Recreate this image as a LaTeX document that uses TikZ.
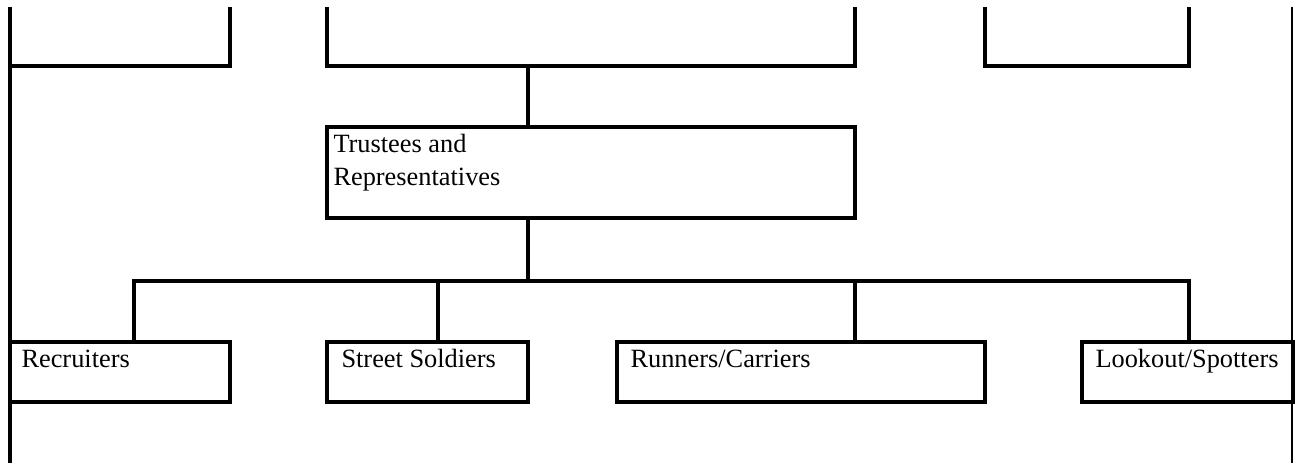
\documentclass[tikz,border=0pt]{standalone}
\usepackage{fontspec}
\setmainfont{Liberation Serif}
\usepackage{tikz}
\usetikzlibrary{fit}

\begin{document}
\begin{tikzpicture}[x=0.02cm, y=-0.02cm,
    box/.style={draw, line width=2.1pt, inner sep=0pt},
    conn/.style={line width=2.1pt},
    lbl/.style={inner sep=0pt, anchor=base west, align=left,
      font=\fontsize{15}{18.7}\selectfont}]
  \useasboundingbox (0,0) rectangle (1295,463);
  \clip (0,7) rectangle (1295,463);
  \node[box, fit={(10,-40) (230,66)}] (top1) {};
  \node[box, fit={(327,-40) (855,66)}] (top2) {};
  \node[box, fit={(985,-40) (1189,66)}] (top3) {};
  \node[box, fit={(327,127) (855,218)}] (trust) {};
  \node[box, fit={(10,342) (230,402)}] (rec) {};
  \node[box, fit={(327,342) (528,402)}] (sol) {};
  \node[box, fit={(617,342) (985,402)}] (run) {};
  \node[box, fit={(1082,342) (1293,402)}] (look) {};
  \node[lbl] (trust-t) at ([shift={(8,60)}]trust.north west) {Trustees and\\Representatives};
  \node[lbl] (rec-t) at ([shift={(13,27)}]rec.north west) {Recruiters};
  \node[lbl] (sol-t) at ([shift={(16,27)}]sol.north west) {Street Soldiers};
  \node[lbl] (run-t) at ([shift={(15,27)}]run.north west) {Runners/Carriers};
  \node[lbl] (look-t) at ([shift={(15,27)}]look.north west) {Lookout/Spotters};
  \draw[conn] (10,7) -- (10,463);
  \draw[line width=0.6pt] (1292,7) -- (1292,463);
  \coordinate (spine) at (528,281);
  \draw[conn] (spine |- top2.south) -- (spine |- trust.north);
  \draw[conn] (spine |- trust.south) -- (spine);
  \coordinate (rec-up) at (134,281);
  \coordinate (sol-up) at (438,281);
  \coordinate (run-up) at (855,281);
  \coordinate (look-up) at (1189,281);
  \draw[conn] (rec-up |- rec.north) -- (rec-up) -- (look-up) -- (look-up |- look.north);
  \draw[conn] (sol-up) -- (sol-up |- sol.north);
  \draw[conn] (run-up) -- (run-up |- run.north);
\end{tikzpicture}
\end{document}
